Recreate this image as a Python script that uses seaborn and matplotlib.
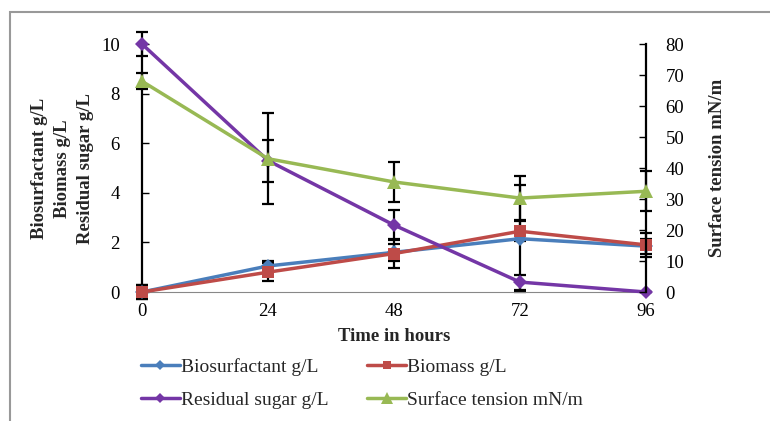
import numpy as np
import pandas as pd
import seaborn as sns
import matplotlib
matplotlib.use('Agg')
from matplotlib import pyplot as plt
from matplotlib.patches import Rectangle

hours = [0, 24, 48, 72, 96]
biosurfactant = [0.0, 1.05, 1.6, 2.15, 1.85]
biomass = [0.0, 0.8, 1.55, 2.45, 1.9]
residual_sugar = [10.0, 5.3, 2.7, 0.4, 0.0]
surface_tension = [68.0, 43.0, 35.5, 30.3, 32.5]

# error bar half-widths
biosurfactant_err = [0.3, 0.2, 0.35, 2.15, 0.3]
biomass_err = [0.3, 0.35, 0.6, 0.4, 0.48]
residual_sugar_err = [0.5, 0.85, 0.6, 0.3, 0.0]
surface_tension_err = [2.5, 14.6, 6.4, 7.0, 6.5]

names = ['Biosurfactant g/L', 'Biomass g/L', 'Residual sugar g/L', 'Surface tension mN/m']
colors = ['#4A7EBB', '#BE4B48', '#7436A6', '#98B954']
markers = ['D', 's', 'D', '^']

sns.set_style('white')
plt.rcParams['font.family'] = ['Liberation Serif', 'DejaVu Serif']

fig = plt.figure(figsize=(7.7, 4.21), dpi=100)
ax = fig.add_axes([0.1844, 0.3064, 0.6545, 0.589])
ax2 = ax.twinx()

left_df = pd.DataFrame({'hours': hours * 3,
                        'value': biosurfactant + biomass + residual_sugar,
                        'series': [names[0]] * 5 + [names[1]] * 5 + [names[2]] * 5})
errs = [biosurfactant_err, biomass_err, residual_sugar_err]
vals = [biosurfactant, biomass, residual_sugar]

for i in range(3):
    ax.errorbar(hours, vals[i], yerr=errs[i], fmt='none', ecolor='black',
                elinewidth=1.6, capsize=4, capthick=1.6, zorder=2, clip_on=False)
ax2.errorbar(hours, surface_tension, yerr=surface_tension_err, fmt='none', ecolor='black',
             elinewidth=1.6, capsize=4, capthick=1.6, zorder=2, clip_on=False)

for i in range(3):
    sub = left_df[left_df['series'] == names[i]]
    sns.lineplot(data=sub, x='hours', y='value', ax=ax, color=colors[i], marker=markers[i],
                 markersize=8 if markers[i] == 's' else 7, linewidth=2.5, markeredgewidth=0,
                 label=names[i], legend=False, clip_on=False, zorder=3)
st_df = pd.DataFrame({'hours': hours, 'value': surface_tension})
sns.lineplot(data=st_df, x='hours', y='value', ax=ax2, color=colors[3], marker='^',
             markersize=10, linewidth=2.5, markeredgewidth=0, label=names[3],
             legend=False, clip_on=False, zorder=3)

ax.set_xlim(0, 96)
ax.set_ylim(0, 10)
ax2.set_ylim(0, 80)
ax.set_xticks(hours)
ax.set_yticks([0, 2, 4, 6, 8, 10])
ax2.set_yticks(range(0, 81, 10))
ax.set_xlabel('Time in hours', fontsize=13.5, fontweight='bold', labelpad=6)
ax.set_ylabel('')
ax2.set_ylabel('Surface tension mN/m', fontsize=13.5, fontweight='bold', labelpad=18)

for a in (ax, ax2):
    a.spines['top'].set_visible(False)
    a.tick_params(labelsize=13.5, length=5, width=1, colors='black')
ax.spines['left'].set_color('black')
ax.spines['left'].set_linewidth(1.6)
ax.spines['right'].set_visible(False)
ax2.spines['left'].set_visible(False)
ax2.spines['right'].set_color('black')
ax2.spines['right'].set_linewidth(1.6)
ax.spines['bottom'].set_color('#888888')
ax2.spines['bottom'].set_visible(False)
ax.tick_params(axis='y', direction='in', pad=16)
ax2.tick_params(axis='y', direction='in', pad=14)
ax.tick_params(axis='x', direction='in', length=4, color='#888888', pad=8)

fig.text(0.081, 0.6, 'Biosurfactant g/L\nBiomass g/L\nResidual sugar g/L', rotation=90,
         ha='center', va='center', multialignment='center', fontsize=13.5,
         fontweight='bold', linespacing=1.45)

h1, l1 = ax.get_legend_handles_labels()
h2, l2 = ax2.get_legend_handles_labels()
handles = h1 + h2
labels = l1 + l2
order = [0, 2, 1, 3]
fig.legend([handles[k] for k in order], [labels[k] for k in order], ncol=2,
           loc='lower left', bbox_to_anchor=(0.183, 0.028), frameon=False, fontsize=14,
           handlelength=2.0, handletextpad=0.05, columnspacing=2.0, labelspacing=0.8,
           borderpad=0, borderaxespad=0, markerscale=0.8)

fig.add_artist(Rectangle((10 / 770, -0.2), 1.2, 1.2 - 12 / 421, transform=fig.transFigure,
                         fill=False, edgecolor='#999999', linewidth=1.5))

fig.savefig('out.png', dpi=100)
